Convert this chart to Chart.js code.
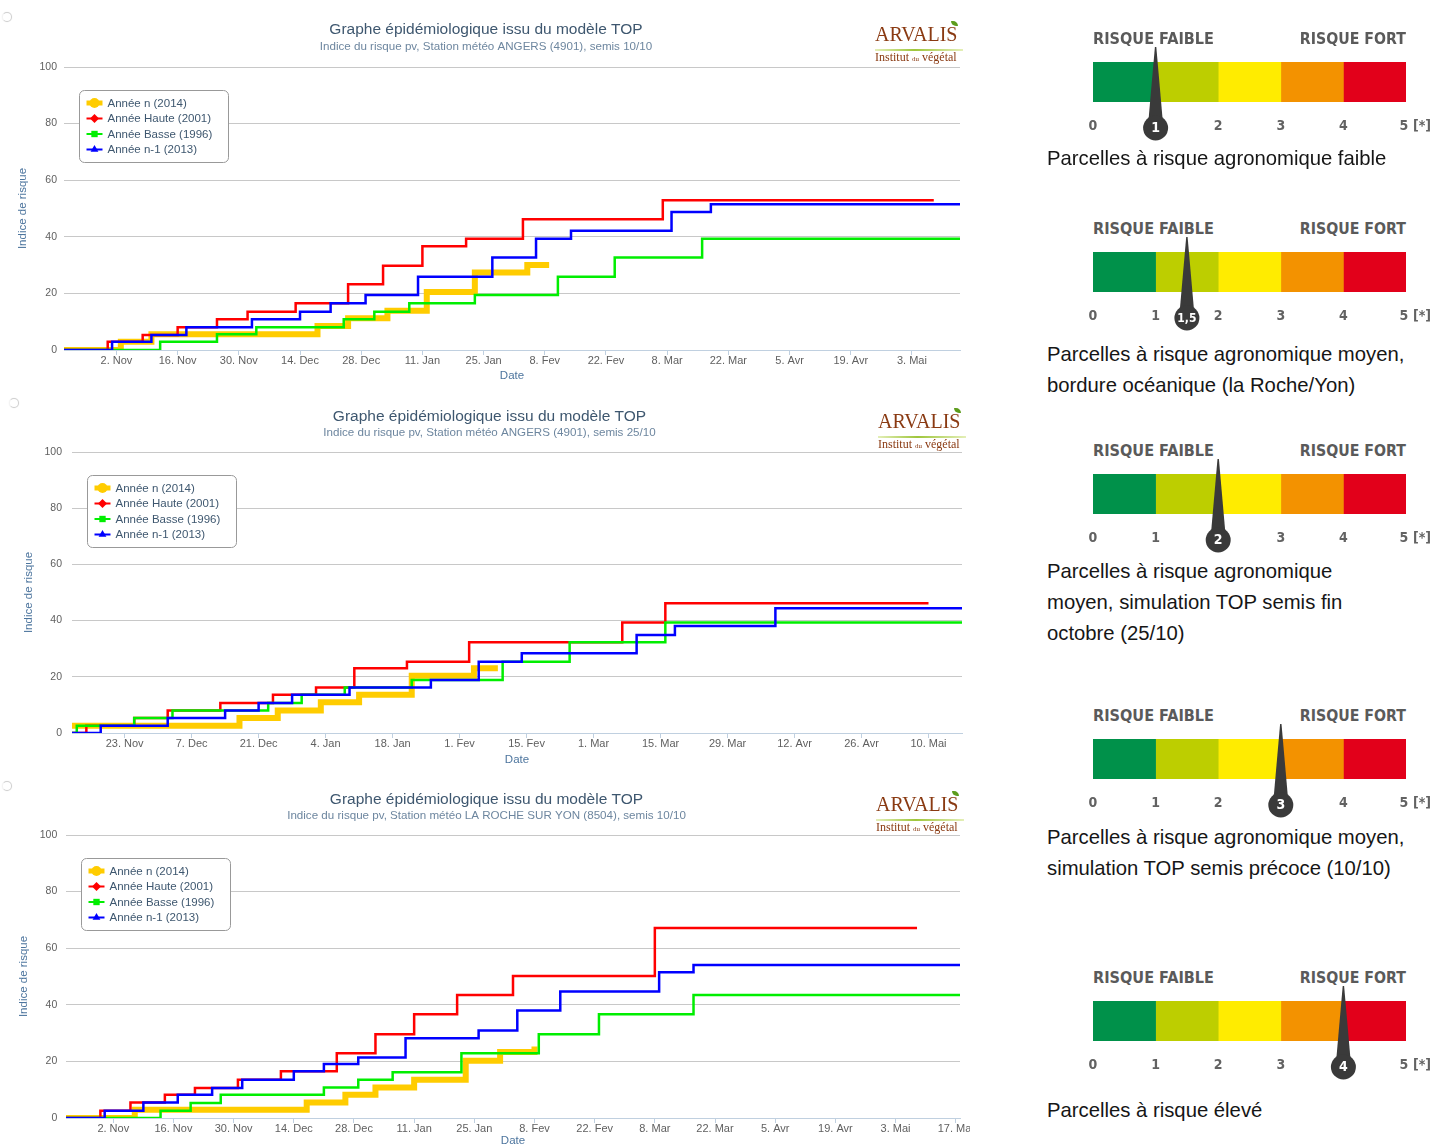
<!DOCTYPE html>
<html lang="fr">
<head>
<meta charset="utf-8">
<title>Graphes épidémiologiques – modèle TOP</title>
<script src="https://cdn.jsdelivr.net/npm/chart.js@4.4.1/dist/chart.umd.min.js"></script>
<style>
  html, body { margin: 0; padding: 0; background: #fff; }
  body { width: 1433px; height: 1148px; position: relative; overflow: hidden; font-family: "Liberation Sans", Arial, sans-serif; }
  .panel { position: absolute; left: 0; overflow: hidden; }
  .panel canvas { position: absolute; left: 0; top: 0; }
  .spin { position: absolute; width: 8px; height: 8px; border-radius: 50%; border: 1.5px solid #cfcfcf; border-left-color: #f2f2f2; box-shadow: 0 0 1px #ddd; }
  .logo { position: absolute; width: 88px; font-family: "Liberation Serif", "DejaVu Serif", serif; color: #8a3a12; }
  .logo .name { font-size: 20px; line-height: 20px; white-space: nowrap; }
  .logo .leaf { position: absolute; left: 76px; top: -3px; width: 7px; height: 5px; background: #5d9c1c; border-radius: 0 6px 0 6px; }
  .logo .rule { height: 2px; margin-top: 5px; background: linear-gradient(to right, #e4efb8, #9fc63c 45%, #e4efb8); }
  .logo .inst { font-size: 12px; line-height: 12px; white-space: nowrap; }
  .logo .inst small { font-size: 7px; }
  .gauge { position: absolute; left: 1040px; }
  .gtitle { position: absolute; font-family: "DejaVu Sans Condensed", "Liberation Sans Narrow", "DejaVu Sans", sans-serif; font-weight: bold; font-size: 16px; line-height: 16px; color: #5a5a5a; white-space: nowrap; }
  .caption { position: absolute; left: 1047px; font-size: 20.3px; line-height: 31px; color: #161616; white-space: nowrap; }
</style>
</head>
<body>

<div class="panel" style="top:0; width:975px; height:385px;"><canvas id="c1" width="975" height="385"></canvas></div>
<div class="panel" style="top:390px; width:975px; height:385px;"><canvas id="c2" width="975" height="385"></canvas></div>
<div class="panel" style="top:775px; width:970px; height:373px;"><canvas id="c3" width="975" height="373"></canvas></div>

<div class="spin" style="left:2px; top:12px;"></div>
<div class="spin" style="left:9px; top:398px;"></div>
<div class="spin" style="left:2px; top:781px;"></div>

<div class="logo" style="left:875px; top:24px;"><div class="name">ARVALIS</div><span class="leaf"></span><div class="rule"></div><div class="inst">Institut <small>du</small> végétal</div></div>
<div class="logo" style="left:878px; top:411px;"><div class="name">ARVALIS</div><span class="leaf"></span><div class="rule"></div><div class="inst">Institut <small>du</small> végétal</div></div>
<div class="logo" style="left:876px; top:794px;"><div class="name">ARVALIS</div><span class="leaf"></span><div class="rule"></div><div class="inst">Institut <small>du</small> végétal</div></div>

<div id="gauges"></div>

<script>
// Indice de risque : changements de palier [date 'MM-JJ', valeur], campagne 2014/2015
const seriesNames = ['Année n (2014)', 'Année Haute (2001)', 'Année Basse (1996)', 'Année n-1 (2013)'];
const seriesColors = ['#ffcc00', '#ff0000', '#00ee00', '#0000ff'];

// ANGERS (4901), semis 10/10
const angers1010Annee = [['10-21',0],['11-03',2.9],['11-10',5.6],['12-18',8.5],['12-25',11.2],['01-03',13.9],['01-12',20.5],['01-23',27.4],['02-04',30],['02-09',30]];
const angers1010Haute = [['10-21',0],['10-31',2.9],['11-08',5.3],['11-16',8],['11-25',10.9],['12-02',13.5],['12-13',16.5],['12-25',23.2],['01-02',29.8],['01-11',36.7],['01-21',39.3],['02-03',46.2],['03-07',52.9],['05-08',52.9]];
const angers1010Basse = [['10-21',0],['11-12',2.9],['11-25',5.6],['12-04',8],['12-24',10.9],['12-31',13.5],['01-08',16.5],['01-23',19.4],['02-11',25.9],['02-24',32.7],['03-16',39.3],['05-14',39.3]];
const angers1010Prec = [['10-21',0],['11-01',2.9],['11-10',5.3],['11-18',8],['12-03',10.9],['12-14',13.5],['12-21',16.5],['12-29',19.4],['01-10',25.9],['01-27',32.7],['02-06',39.3],['02-14',42.1],['03-09',48.8],['03-18',51.5],['05-14',51.5]];

// ANGERS (4901), semis 25/10
const angers2510Annee = [['11-12',2.6],['12-17',5.3],['12-25',8],['01-03',10.9],['01-11',13.6],['01-22',20.4],['02-04',23],['02-09',23]];
const angers2510Haute = [['11-12',0],['11-15',2.6],['11-25',5.3],['12-02',8],['12-13',10.7],['12-24',13.6],['01-02',16.2],['01-10',23],['01-21',25.4],['02-03',32.3],['03-07',39.3],['03-16',46.2],['05-10',46.2]];
const angers2510Basse = [['11-12',0],['11-13',2.6],['11-25',5.3],['12-03',8],['12-23',10.7],['12-30',13.6],['01-08',16.2],['01-22',18.9],['02-10',25.4],['02-24',32.3],['03-16',39.3],['05-17',39.3]];
const angers2510Prec = [['11-12',0],['11-18',2.6],['12-02',5.3],['12-14',8],['12-21',10.7],['12-28',13.6],['01-09',16.2],['01-26',18.9],['02-05',25.4],['02-14',28.4],['03-10',34.9],['03-18',38.1],['04-08',44.4],['05-17',44.4]];

// LA ROCHE SUR YON (8504), semis 10/10
const roche1010Annee = [['10-22',0],['11-07',2.9],['12-17',5.5],['12-26',8.2],['01-02',10.8],['01-11',13.5],['01-23',20.2],['01-31',23.3],['02-08',25.3]];
const roche1010Haute = [['10-22',0],['10-30',2.6],['11-06',5.5],['11-14',8.2],['11-21',10.6],['12-01',13.5],['12-11',16.5],['12-24',22.9],['01-02',29.6],['01-11',36.7],['01-21',43.5],['02-03',50.2],['03-08',67.1],['05-08',67.1]];
const roche1010Basse = [['10-22',0],['11-13',2.6],['11-20',5.3],['11-27',8.2],['12-21',10.8],['12-29',13.5],['01-06',16.2],['01-22',22.9],['02-09',29.6],['02-23',36.7],['03-17',43.5],['05-18',43.5]];
const roche1010Prec = [['10-22',0],['10-31',2.6],['11-09',5.5],['11-17',8.2],['11-25',10.6],['12-02',13.5],['12-14',16.5],['12-21',19.1],['12-29',21.4],['01-09',28.2],['01-26',30.9],['02-04',38],['02-14',44.7],['03-09',51.5],['03-17',54.1],['05-18',54.1]];

// axe des dates
const ticksSemis1010 = ['11-02','11-16','11-30','12-14','12-28','01-11','01-25','02-08','02-22','03-08','03-22','04-05','04-19','05-03','05-17'];
const labelsSemis1010 = ['2. Nov','16. Nov','30. Nov','14. Dec','28. Dec','11. Jan','25. Jan','8. Fev','22. Fev','8. Mar','22. Mar','5. Avr','19. Avr','3. Mai','17. Mai'];
const ticksSemis2510 = ['11-23','12-07','12-21','01-04','01-18','02-01','02-15','03-01','03-15','03-29','04-12','04-26','05-10'];
const labelsSemis2510 = ['23. Nov','7. Dec','21. Dec','4. Jan','18. Jan','1. Fev','15. Fev','1. Mar','15. Mar','29. Mar','12. Avr','26. Avr','10. Mai'];

// jauges de risque
const bandEdges = [0, 1, 2, 3, 4, 5];
const bandColors = ['#00914a', '#bdce00', '#ffec00', '#f39200', '#e2001a'];
const gaugeValues = [1, 1.5, 2, 3, 4];
const gaugeValueLabels = ['1', '1,5', '2', '3', '4'];
const gaugeCaptions = [
  ['Parcelles à risque agronomique faible'],
  ['Parcelles à risque agronomique moyen,', 'bordure océanique (la Roche/Yon)'],
  ['Parcelles à risque agronomique', 'moyen, simulation TOP semis fin', 'octobre (25/10)'],
  ['Parcelles à risque agronomique moyen,', 'simulation TOP semis précoce (10/10)'],
  ['Parcelles à risque élevé']
];

Chart.defaults.font.family = '"Liberation Sans", Arial, Helvetica, sans-serif';
Chart.defaults.animation = false;
Chart.defaults.responsive = false;
Chart.defaults.events = [];

function dayOf(md) {
  const [m, d] = md.split('-').map(Number);
  const year = m >= 9 ? 2014 : 2015;
  return (Date.UTC(year, m - 1, d) - Date.UTC(2014, 9, 1)) / 86400000;
}

// legend box drawn inside the plot, like the original
const markerStyles = ['circle', 'rectRot', 'rect', 'triangle'];
const boxLegend = {
  id: 'boxLegend',
  afterDraw(chart) {
    const { ctx, chartArea } = chart;
    const x0 = Math.round(chartArea.left + 15) + 0.5, y0 = Math.round(chartArea.top + 23) + 0.5;
    ctx.save();
    ctx.fillStyle = '#fff';
    ctx.strokeStyle = '#999';
    ctx.lineWidth = 1;
    ctx.beginPath();
    ctx.roundRect(x0, y0, 149, 72, 5);
    ctx.fill();
    ctx.stroke();
    ctx.font = '11.5px "Liberation Sans", Arial, sans-serif';
    ctx.textBaseline = 'middle';
    chart.data.datasets.forEach((ds, i) => {
      const y = y0 + 12.5 + i * 15.5;
      ctx.strokeStyle = ds.borderColor;
      ctx.fillStyle = ds.borderColor;
      ctx.lineWidth = i === 0 ? 5 : 2;
      ctx.beginPath();
      ctx.moveTo(x0 + 7, y);
      ctx.lineTo(x0 + 23, y);
      ctx.stroke();
      Chart.helpers.drawPoint(ctx, { pointStyle: markerStyles[i], radius: i === 0 ? 5 : 4.5, rotation: 0, borderWidth: 0 }, x0 + 15, y);
      ctx.fillStyle = '#3e576f';
      ctx.fillText(ds.label, x0 + 28, y + 0.5);
    });
    ctx.restore();
  }
};

function epiChart(id, subtitle, series, tickDates, tickLabels, range, lay) {
  const tickDays = tickDates.map(dayOf);
  return new Chart(document.getElementById(id), {
    type: 'line',
    data: {
      datasets: series.map((pts, i) => ({
        label: seriesNames[i],
        data: pts.map(([d, v]) => ({ x: dayOf(d), y: v })),
        borderColor: seriesColors[i],
        backgroundColor: seriesColors[i],
        borderWidth: i === 0 ? 6 : 2.5,
        pointRadius: 0,
        stepped: true,
        fill: false,
        order: 4 - i
      }))
    },
    options: {
      layout: { padding: { left: lay.padL, right: lay.padR, top: 0, bottom: 0 } },
      plugins: {
        legend: { display: false },
        tooltip: { enabled: false },
        title: {
          display: true, text: 'Graphe épidémiologique issu du modèle TOP', color: '#3e576f',
          font: { size: 15.5, weight: 'normal', lineHeight: '18px' },
          padding: { top: lay.titleTop, bottom: 0 }
        },
        subtitle: {
          display: true, text: subtitle, color: '#6d869f',
          font: { size: 11.6, lineHeight: '13.2px' },
          padding: { top: lay.subTop, bottom: lay.subBottom }
        }
      },
      scales: {
        x: {
          type: 'linear',
          min: dayOf(range[0]),
          max: dayOf(range[1]),
          afterBuildTicks: s => { s.ticks = tickDays.map(v => ({ value: v })); },
          afterFit: s => { s.height = lay.xHeight; },
          ticks: { autoSkip: false, maxRotation: 0, padding: -1, color: '#606060', font: { size: 11 }, callback: (v, i) => tickLabels[i] },
          grid: { drawOnChartArea: false, drawTicks: true, tickLength: 5, color: '#c0d0e0' },
          border: { color: '#c0d0e0' },
          title: { display: true, text: 'Date', color: '#4d759e', font: { size: 11.5, lineHeight: 1.2 }, padding: { top: 0, bottom: lay.xTitleBottom } }
        },
        y: {
          min: 0,
          max: 100,
          afterFit: s => { s.width = lay.yWidth; },
          ticks: { stepSize: 20, padding: lay.yTickPad, color: '#606060', font: { size: 10.5 } },
          grid: { color: '#c8c8c8', drawTicks: false },
          border: { display: false },
          title: { display: true, text: 'Indice de risque', color: '#4d759e', font: { size: 11.5, lineHeight: 1.2 }, padding: { top: lay.yTitlePad, bottom: 0 } }
        }
      }
    },
    plugins: [boxLegend]
  });
}

epiChart('c1', 'Indice du risque pv, Station météo ANGERS (4901), semis 10/10',
  [angers1010Annee, angers1010Haute, angers1010Basse, angers1010Prec],
  ticksSemis1010.slice(0, 14), labelsSemis1010.slice(0, 14), ['10-21', '05-14'],
  { padL: 12, padR: 15, yWidth: 52, xHeight: 35, titleTop: 21, subTop: 1.4, subBottom: 13.4, yTitlePad: 4.1, yTickPad: 7, xTitleBottom: 2.1 });

epiChart('c2', 'Indice du risque pv, Station météo ANGERS (4901), semis 25/10',
  [angers2510Annee, angers2510Haute, angers2510Basse, angers2510Prec],
  ticksSemis2510, labelsSemis2510, ['11-12', '05-17'],
  { padL: 17, padR: 13, yWidth: 55, xHeight: 42, titleTop: 17.7, subTop: 0.4, subBottom: 12.7, yTitlePad: 5.4, yTickPad: 10, xTitleBottom: 8.1 });

epiChart('c3', 'Indice du risque pv, Station météo LA ROCHE SUR YON (8504), semis 10/10',
  [roche1010Annee, roche1010Haute, roche1010Basse, roche1010Prec],
  ticksSemis1010, labelsSemis1010, ['10-22', '05-18'],
  { padL: 13, padR: 15, yWidth: 53, xHeight: 30, titleTop: 16, subTop: 0.4, subBottom: 12.4, yTitlePad: 4.1, yTickPad: 8.7, xTitleBottom: 0 });

// gauges: needle, circle and numbers placed with the x scale
const gaugeMarks = {
  id: 'gaugeMarks',
  afterDraw(chart, args, opts) {
    const { ctx, chartArea } = chart;
    const xs = chart.scales.x;
    const numY = chartArea.top + 64.5;
    const numFont = 'bold 14px "DejaVu Sans Condensed", "Liberation Sans Narrow", "DejaVu Sans", sans-serif';
    ctx.save();
    ctx.font = numFont;
    ctx.fillStyle = '#626262';
    ctx.textBaseline = 'middle';
    xs.ticks.forEach(t => {
      if (t.value === opts.value) return;
      const x = xs.getPixelForValue(t.value);
      if (t.value === xs.max) {
        ctx.textAlign = 'center';
        ctx.fillText('5', x - 2, numY);
        ctx.textAlign = 'left';
        ctx.fillText('[*]', x + 7, numY);
      } else {
        ctx.textAlign = 'center';
        ctx.fillText(String(t.value), x, numY);
      }
    });
    const px = xs.getPixelForValue(opts.value);
    const tipY = chartArea.top - 15, cy = chartArea.top + 66;
    ctx.fillStyle = '#3a3a3a';
    ctx.beginPath();
    ctx.moveTo(px - 0.7, tipY);
    ctx.lineTo(px + 0.7, tipY);
    ctx.lineTo(px + 7, cy - 9);
    ctx.lineTo(px - 7, cy - 9);
    ctx.closePath();
    ctx.fill();
    ctx.beginPath();
    ctx.arc(px, cy, 12.5, 0, Math.PI * 2);
    ctx.fill();
    ctx.fillStyle = '#fff';
    ctx.textAlign = 'center';
    ctx.font = opts.label.length > 1 ? 'bold 12px "DejaVu Sans Condensed", "Liberation Sans Narrow", "DejaVu Sans", sans-serif' : numFont;
    ctx.fillText(opts.label, px, cy + 0.5);
    ctx.restore();
  }
};

const gaugeLayout = [
  { bar: 62, caption: 142.5 },
  { bar: 252, caption: 338.5 },
  { bar: 473.5, caption: 555.5 },
  { bar: 738.5, caption: 821.5 },
  { bar: 1001, caption: 1094.5 }
];

const host = document.getElementById('gauges');
gaugeValues.forEach((value, i) => {
  const lay = gaugeLayout[i];

  const low = document.createElement('div');
  low.className = 'gtitle';
  low.textContent = 'RISQUE FAIBLE';
  low.style.left = '1093px';
  low.style.top = (lay.bar - 30.7) + 'px';
  low.dataset.w = 121;
  low.style.transformOrigin = 'left center';
  host.appendChild(low);

  const high = document.createElement('div');
  high.className = 'gtitle';
  high.textContent = 'RISQUE FORT';
  high.style.right = '27px';
  high.style.top = (lay.bar - 30.7) + 'px';
  high.dataset.w = 106;
  high.style.transformOrigin = 'right center';
  host.appendChild(high);

  const cv = document.createElement('canvas');
  cv.className = 'gauge';
  cv.width = 393;
  cv.height = 100;
  cv.style.top = (lay.bar - 20) + 'px';
  host.appendChild(cv);

  const cap = document.createElement('div');
  cap.className = 'caption';
  cap.style.top = lay.caption + 'px';
  gaugeCaptions[i].forEach((line, k) => {
    if (k) cap.appendChild(document.createElement('br'));
    cap.appendChild(document.createTextNode(line));
  });
  host.appendChild(cap);

  new Chart(cv, {
    type: 'bar',
    data: {
      labels: [''],
      datasets: bandColors.map((c, b) => ({
        data: [[bandEdges[b], bandEdges[b + 1]]],
        backgroundColor: c,
        borderWidth: 0,
        grouped: false,
        barPercentage: 1,
        categoryPercentage: 1
      }))
    },
    options: {
      indexAxis: 'y',
      layout: { padding: { left: 53, right: 27, top: 20, bottom: 0 } },
      plugins: {
        legend: { display: false },
        tooltip: { enabled: false },
        gaugeMarks: { value, label: gaugeValueLabels[i] }
      },
      scales: {
        x: {
          type: 'linear', min: 0, max: 5,
          ticks: { display: false, stepSize: 1 },
          grid: { display: false },
          border: { display: false },
          afterFit: s => { s.height = 40; }
        },
        y: { display: false }
      }
    },
    plugins: [gaugeMarks]
  });
});

document.querySelectorAll('.gtitle').forEach(el => {
  const w = el.getBoundingClientRect().width;
  if (w > 0) el.style.transform = 'scaleX(' + (el.dataset.w / w) + ')';
});
</script>
</body>
</html>
